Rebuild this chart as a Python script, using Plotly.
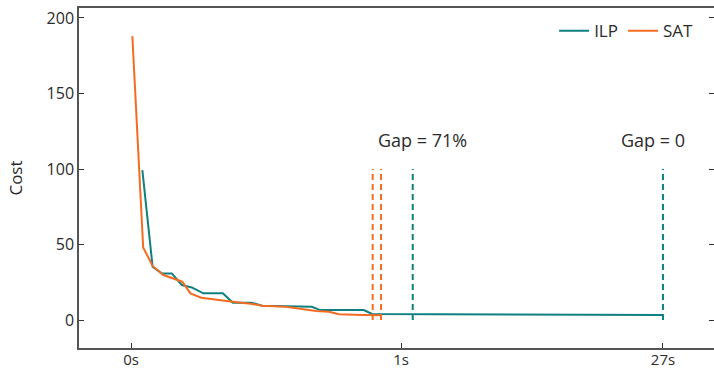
import plotly.graph_objects as go

# ---- data (times in seconds, cost values) ----
ilp_time = [0.042, 0.08, 0.114, 0.151, 0.188, 0.225, 0.268, 0.34, 0.377, 0.447, 0.485, 0.67, 0.70, 0.862, 0.893, 27.0]
ilp_cost = [99.3, 35.3, 30.9, 30.9, 23.2, 21.6, 17.7, 17.7, 11.5, 11.5, 9.5, 8.8, 6.6, 6.6, 4.0, 3.3]

sat_time = [0.005, 0.045, 0.08, 0.12, 0.19, 0.22, 0.26, 0.34, 0.377, 0.45, 0.487, 0.573, 0.622, 0.685, 0.733, 0.77, 0.86, 0.926]
sat_cost = [188, 48.1, 35.8, 29.8, 25.4, 17.7, 14.8, 12.8, 12.1, 10.6, 9.5, 8.8, 7.7, 6.0, 5.5, 3.8, 3.3, 3.1]

sat_marks = [0.895, 0.926]
ilp_marks = [2.16, 27.0]
mark_cost = [0, 100]

gap_labels = ["Gap = 71%", "Gap = 0"]
gap_time = [3.13, 26.0]
gap_cost = 119

tick_times = [0, 1, 27]
tick_text = ["0s", "1s", "27s"]

TEAL = "#0f8080"
ORANGE = "#f36c21"
TEXT = "#2b2b2b"


def pos(t):
    # piecewise time scale: linear to 1s, compressed beyond
    return t if t <= 1 else 1 + (t - 1) * (0.970 / 26)


fig = go.Figure()
fig.add_trace(go.Scatter(x=[pos(t) for t in ilp_time], y=ilp_cost, mode="lines",
                         name="ILP", line=dict(color=TEAL, width=2)))
fig.add_trace(go.Scatter(x=[pos(t) for t in sat_time], y=sat_cost, mode="lines",
                         name="SAT", line=dict(color=ORANGE, width=2)))

for t in sat_marks:
    fig.add_trace(go.Scatter(x=[pos(t), pos(t)], y=mark_cost, mode="lines", showlegend=False,
                             line=dict(color=ORANGE, width=2, dash="6px,4px")))
for t in ilp_marks:
    fig.add_trace(go.Scatter(x=[pos(t), pos(t)], y=mark_cost, mode="lines", showlegend=False,
                             line=dict(color=TEAL, width=2, dash="6px,4px")))

for lbl, t in zip(gap_labels, gap_time):
    fig.add_annotation(x=pos(t), y=gap_cost, text=lbl, showarrow=False,
                       font=dict(size=18, color=TEXT))

axis_common = dict(showgrid=False, zeroline=False, showline=True, linecolor="#555555",
                   linewidth=1.5, ticks="inside", ticklen=5, tickcolor="#333333",
                   automargin=False)

fig.update_xaxes(range=[pos(0) - 0.1926, 2.159], tickvals=[pos(t) for t in tick_times],
                 ticktext=tick_text, mirror=True, tickfont=dict(size=15, color=TEXT),
                 ticklabelstandoff=-3, **axis_common)
fig.update_yaxes(range=[-18.5, 206.6], tickvals=[0, 50, 100, 150, 200], mirror="ticks",
                 tickfont=dict(size=16, color=TEXT),
                 title=dict(text="Cost", font=dict(size=17, color=TEXT), standoff=20),
                 **axis_common)

fig.update_layout(
    width=714, height=370,
    margin=dict(l=79, r=0, t=8, b=22),
    paper_bgcolor="white", plot_bgcolor="white",
    font=dict(family="Open Sans", color=TEXT),
    showlegend=True,
    legend=dict(orientation="h", x=0.975, xanchor="right", y=0.985, yanchor="top",
                font=dict(size=17, color=TEXT), bgcolor="rgba(0,0,0,0)",
                itemwidth=30, tracegroupgap=0),
)

fig.write_html("out.html", config={"displayModeBar": False},
               post_script="document.body.style.margin='0';document.body.style.overflow='hidden';")
